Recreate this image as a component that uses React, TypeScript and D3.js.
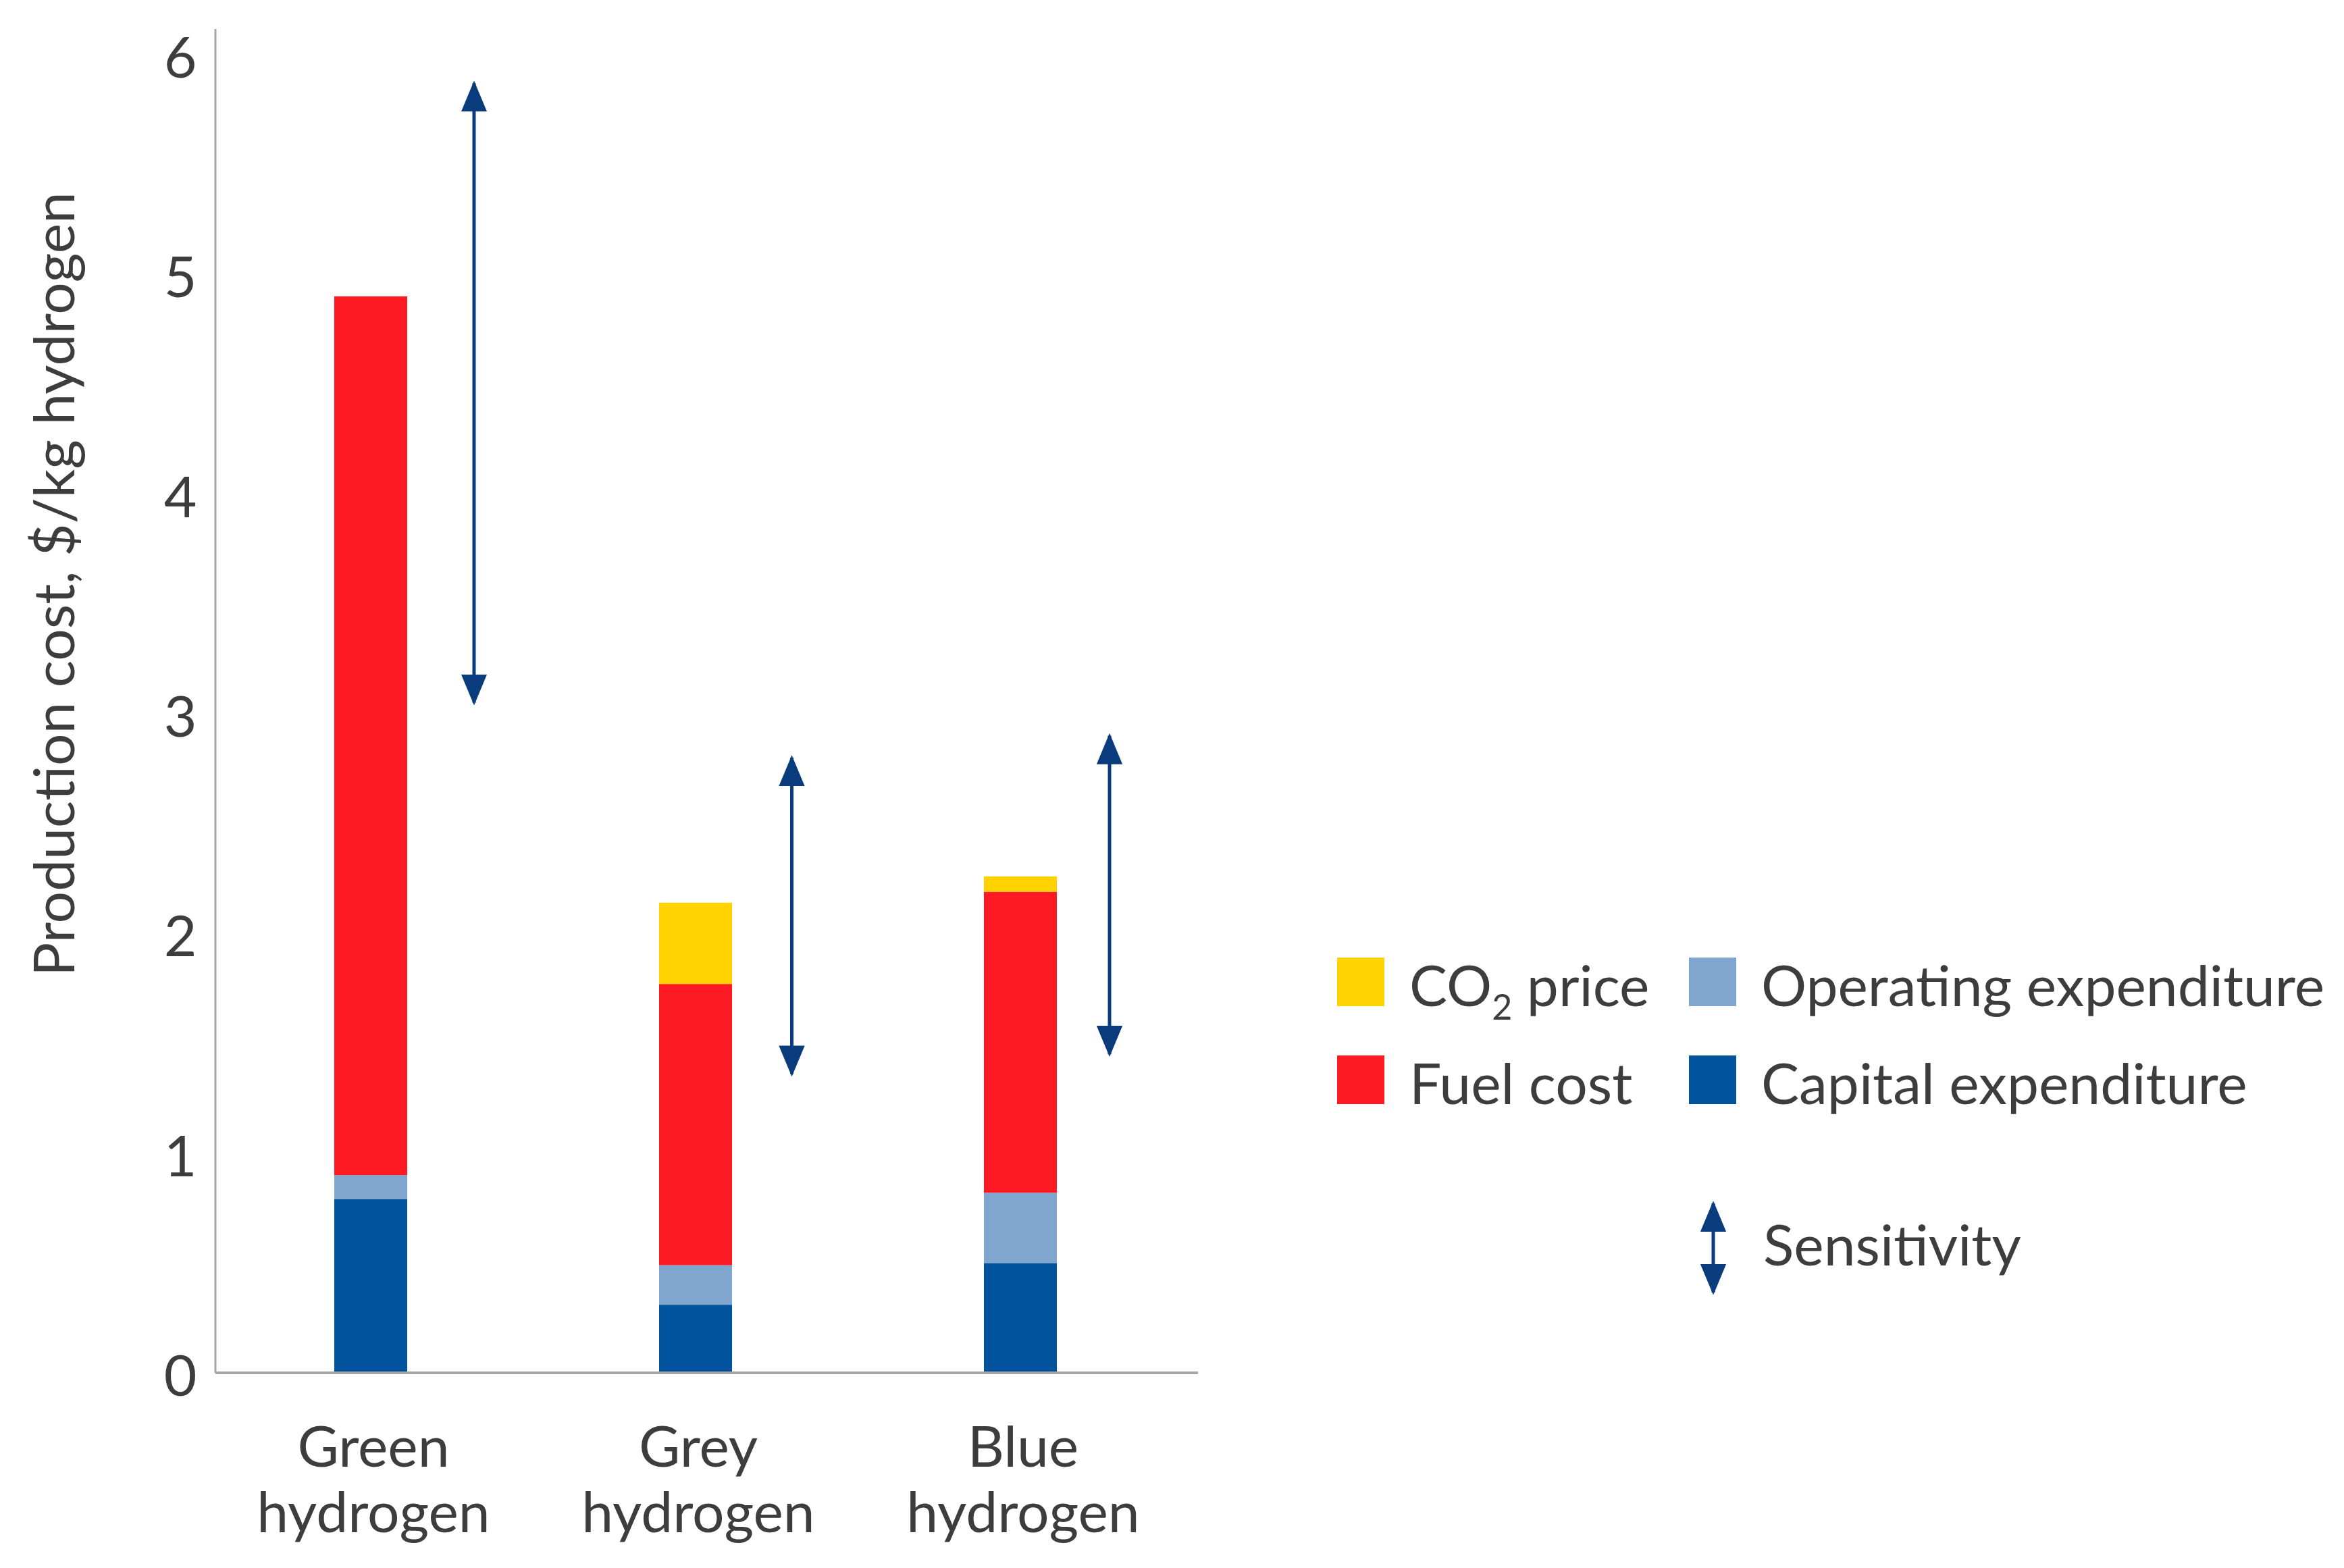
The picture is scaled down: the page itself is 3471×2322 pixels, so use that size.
import React, { useEffect, useRef } from "react";
import * as d3 from "d3";

const categories = ["Green hydrogen", "Grey hydrogen", "Blue hydrogen"];
const capex = [0.79, 0.31, 0.5];
const opex = [0.11, 0.18, 0.32];
const fuel = [4.0, 1.28, 1.37];
const co2 = [0, 0.37, 0.07];
const sensLow = [3.05, 1.36, 1.45];
const sensHigh = [5.87, 2.8, 2.9];
const yTicks = [0, 1, 2, 3, 4, 5, 6];

const seriesKeys = ["capex", "opex", "fuel", "co2"];
const seriesColors: Record<string, string> = {
	capex: "#00539c",
	opex: "#80a5cf",
	fuel: "#fe1a22",
	co2: "#ffd200",
};

const W = 3471;
const H = 2322;
const FONT = "Lato, 'Noto Sans', sans-serif";
const TEXT = "#3d3d3d";
const NAVY = "#0a3c7d";

const App: React.FC = () => {
	const svgRef = useRef<SVGSVGElement>(null);

	useEffect(() => {
		if (!svgRef.current) return;
		const svg = d3.select(svgRef.current);
		svg.selectAll("*").remove();

		const axisX = 319;
		const axisRight = 1774;

		const y = d3.scaleLinear().domain([0, 6]).range([2033, 81]);
		const x = d3.scalePoint<string>().domain(categories).range([549, 1511]);
		const xs = d3.scalePoint<string>().domain(categories).range([702, 1643]);
		const barW = 108;

		const rows = categories.map((c, i) => ({
			cat: c,
			capex: capex[i],
			opex: opex[i],
			fuel: fuel[i],
			co2: co2[i],
		}));
		const stacked = d3.stack<any>().keys(seriesKeys)(rows);

		// arrow head marker
		const defs = svg.append("defs");
		defs
			.append("marker")
			.attr("id", "head")
			.attr("viewBox", "0 0 12 10")
			.attr("refX", 11)
			.attr("refY", 5)
			.attr("markerUnits", "userSpaceOnUse")
			.attr("markerWidth", 46)
			.attr("markerHeight", 42)
			.attr("orient", "auto-start-reverse")
			.append("path")
			.attr("d", "M0,0 L12,5 L0,10 Z")
			.attr("fill", NAVY);

		// bars
		svg
			.append("g")
			.selectAll("g")
			.data(stacked)
			.join("g")
			.attr("fill", (d) => seriesColors[d.key])
			.selectAll("rect")
			.data((d) => d.filter((s) => s[1] - s[0] > 0))
			.join("rect")
			.attr("x", (d) => (x(d.data.cat) as number) - barW / 2)
			.attr("y", (d) => y(d[1]))
			.attr("width", barW)
			.attr("height", (d) => y(d[0]) - y(d[1]));

		// axes
		svg
			.append("line")
			.attr("x1", axisX)
			.attr("x2", axisX)
			.attr("y1", 43)
			.attr("y2", y(0))
			.attr("stroke", "#a6a6a6")
			.attr("stroke-width", 3);
		svg
			.append("line")
			.attr("x1", axisX)
			.attr("x2", axisRight)
			.attr("y1", y(0))
			.attr("y2", y(0))
			.attr("stroke", "#a6a6a6")
			.attr("stroke-width", 4);

		// y tick labels
		svg
			.append("g")
			.selectAll("text")
			.data(yTicks)
			.join("text")
			.attr("x", 267)
			.attr("y", (d) => y(d) + 34)
			.attr("text-anchor", "middle")
			.attr("font-family", FONT)
			.attr("font-size", 84)
			.attr("fill", TEXT)
			.text((d) => d);

		// y title
		svg
			.append("text")
			.attr("transform", "translate(110,865) rotate(-90)")
			.attr("text-anchor", "middle")
			.attr("font-family", FONT)
			.attr("font-size", 84)
			.attr("fill", TEXT)
			.text("Production cost, $/kg hydrogen");

		// category labels
		const cl = svg
			.append("g")
			.selectAll("text")
			.data(categories)
			.join("text")
			.attr("text-anchor", "middle")
			.attr("font-family", FONT)
			.attr("font-size", 84)
			.attr("fill", TEXT);
		cl.append("tspan")
			.attr("x", (d) => (x(d) as number) + 4)
			.attr("y", 2172)
			.text((d) => d.split(" ")[0]);
		cl.append("tspan")
			.attr("x", (d) => (x(d) as number) + 4)
			.attr("y", 2269)
			.text((d) => d.split(" ")[1]);

		// sensitivity arrows
		svg
			.append("g")
			.selectAll("line")
			.data(categories)
			.join("line")
			.attr("x1", (d) => xs(d) as number)
			.attr("x2", (d) => xs(d) as number)
			.attr("y1", (d, i) => y(sensLow[i]))
			.attr("y2", (d, i) => y(sensHigh[i]))
			.attr("stroke", NAVY)
			.attr("stroke-width", 5)
			.attr("marker-start", "url(#head)")
			.attr("marker-end", "url(#head)");

		// Legend
		const legendItems = [
			{ key: "co2", label: "CO2 price", col: 0, row: 0 },
			{ key: "opex", label: "Operating expenditure", col: 1, row: 0 },
			{ key: "fuel", label: "Fuel cost", col: 0, row: 1 },
			{ key: "capex", label: "Capital expenditure", col: 1, row: 1 },
		];
		const colX = [1980, 2501];
		const rowY = [1490, 1635];
		const lg = svg
			.append("g")
			.selectAll("g")
			.data(legendItems)
			.join("g")
			.attr("transform", (d) => `translate(${colX[d.col]},${rowY[d.row]})`);
		lg.append("rect")
			.attr("x", 0)
			.attr("y", -72)
			.attr("width", 70)
			.attr("height", 72)
			.attr("fill", (d) => seriesColors[d.key]);
		const lt = lg
			.append("text")
			.attr("x", 107)
			.attr("y", 0)
			.attr("font-family", FONT)
			.attr("font-size", 84)
			.attr("fill", TEXT);
		lt.each(function (d) {
			const t = d3.select(this);
			if (d.key === "co2") {
				t.append("tspan").text("CO");
				t.append("tspan").attr("font-size", 52).attr("dy", 20).text("2");
				t.append("tspan").attr("dy", -20).text(" price");
			} else {
				t.text(d.label);
			}
		});

		svg
			.append("line")
			.attr("x1", 2537)
			.attr("x2", 2537)
			.attr("y1", 1914)
			.attr("y2", 1782)
			.attr("stroke", NAVY)
			.attr("stroke-width", 5)
			.attr("marker-start", "url(#head)")
			.attr("marker-end", "url(#head)");
		svg
			.append("text")
			.attr("x", 2611)
			.attr("y", 1874)
			.attr("font-family", FONT)
			.attr("font-size", 84)
			.attr("fill", TEXT)
			.text("Sensitivity");
	}, []);

	return (
		<svg
			ref={svgRef}
			width={W}
			height={H}
			style={{ position: "absolute", left: 0, top: 0, background: "#fff" }}
		/>
	);
};

export default App;
